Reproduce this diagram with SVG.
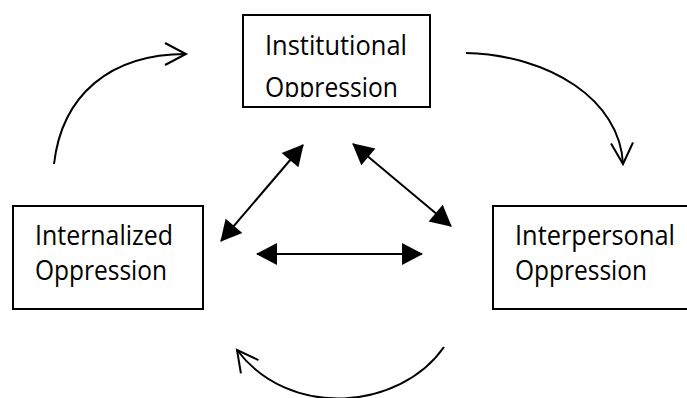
<svg xmlns="http://www.w3.org/2000/svg" width="687" height="398" viewBox="0 0 687 398">
  <style>
    .box { fill: #ffffff; stroke: #000000; stroke-width: 2; }
    .lbl { font-family: "Open Sans", "Noto Sans", sans-serif; font-size: 26.5px; fill: #000000; }
    .curve { fill: none; stroke: #000000; stroke-width: 2; marker-end: url(#open); }
    .dbl { fill: none; stroke: #000000; stroke-width: 2; marker-start: url(#solid); marker-end: url(#solid); }
  </style>
  <defs>
    <marker id="open" markerUnits="userSpaceOnUse" markerWidth="26" markerHeight="28" refX="21" refY="12" orient="auto" overflow="visible">
      <path d="M0,1 L21,12 L0,23" fill="none" stroke="#000000" stroke-width="2"/>
    </marker>
    <marker id="solid" markerUnits="userSpaceOnUse" markerWidth="22" markerHeight="22" refX="20" refY="11" orient="auto-start-reverse" overflow="visible">
      <path d="M0,0 L21,11 L0,22 Z" fill="#000000"/>
    </marker>
    <clipPath id="topclip">
      <rect x="244" y="15" width="185" height="82"/>
    </clipPath>
  </defs>
  <rect width="687" height="398" fill="#ffffff"/>

  <g id="institutional">
    <rect class="box" x="243" y="15" width="187" height="92"/>
    <g clip-path="url(#topclip)">
      <text class="lbl" x="265" y="55" textLength="142" lengthAdjust="spacingAndGlyphs">Institutional</text>
      <text class="lbl" x="265" y="97" textLength="133" lengthAdjust="spacingAndGlyphs">Oppression</text>
    </g>
  </g>

  <g id="internalized">
    <rect class="box" x="13" y="206" width="190" height="103"/>
    <text class="lbl" x="35" y="245" textLength="138" lengthAdjust="spacingAndGlyphs">Internalized</text>
    <text class="lbl" x="35" y="280" textLength="132" lengthAdjust="spacingAndGlyphs">Oppression</text>
  </g>

  <g id="interpersonal">
    <rect class="box" x="493" y="206" width="210" height="103"/>
    <text class="lbl" x="515" y="245" textLength="160" lengthAdjust="spacingAndGlyphs">Interpersonal</text>
    <text class="lbl" x="515" y="280" textLength="132" lengthAdjust="spacingAndGlyphs">Oppression</text>
  </g>

  <g id="connectors">
    <path class="curve" d="M54,164 C62,95 110,54 186,54"/>
    <path class="curve" d="M466,53 C550,55 620,100 623,164"/>
    <path class="curve" d="M444,347 C400,410 290,420 237,350"/>
    <line class="dbl" x1="221" y1="241" x2="303" y2="145"/>
    <line class="dbl" x1="353" y1="144" x2="451" y2="226"/>
    <line class="dbl" x1="257" y1="254" x2="422" y2="254"/>
  </g>
</svg>
